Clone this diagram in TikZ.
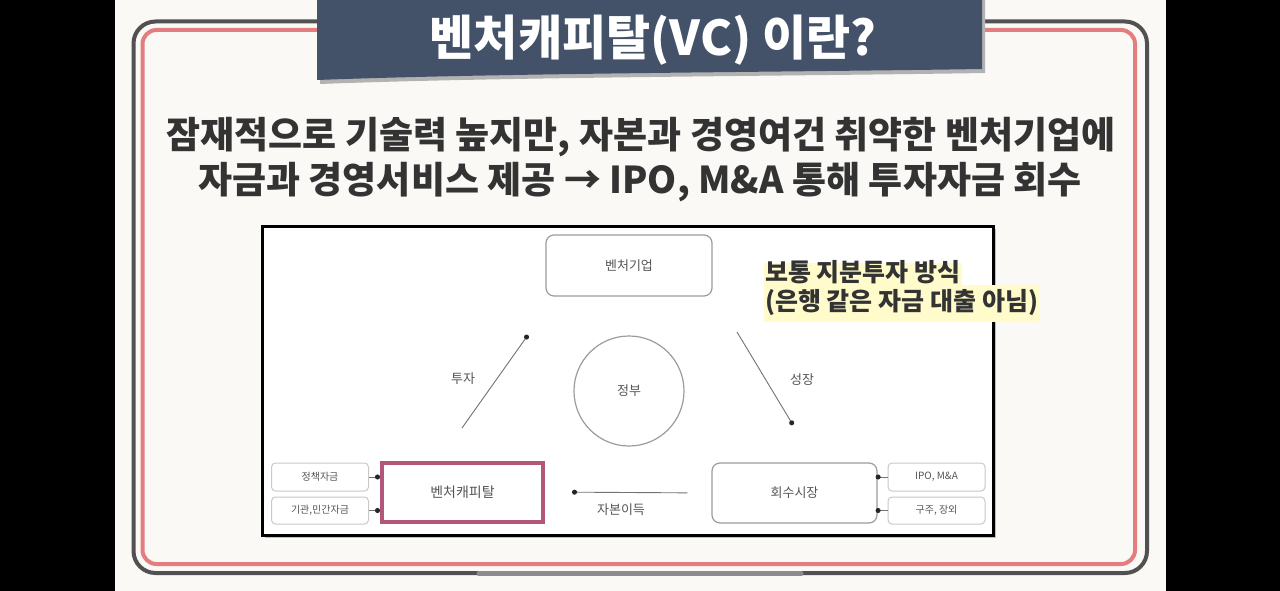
\documentclass[tikz,border=0pt]{standalone}
\usepackage{fontspec}
\setmainfont{Noto Sans CJK KR}
\usetikzlibrary{arrows.meta, positioning}

\definecolor{slidebg}{HTML}{FAF9F5}
\definecolor{bannerblue}{HTML}{435268}
\definecolor{framegray}{HTML}{515151}
\definecolor{framepink}{HTML}{E47D80}
\definecolor{leadtext}{HTML}{333333}
\definecolor{vcpink}{HTML}{B2567A}
\definecolor{boxgray}{HTML}{9C9C9C}
\definecolor{fundgray}{HTML}{C9C9C9}
\definecolor{labelgray}{HTML}{555555}
\definecolor{hilite}{HTML}{FFFBCB}

\begin{document}
\begin{tikzpicture}[
    x=1pt, y=-1pt,
    roundbox/.style={rectangle, draw=boxgray, rounded corners=8pt, line width=1.2pt, fill=white, align=center, font=\fontsize{13}{15}\selectfont, text=labelgray},
    fundbox/.style={rectangle, draw=fundgray, rounded corners=4pt, line width=1pt, fill=white, minimum width=97pt, minimum height=27pt, inner sep=0pt, font=\fontsize{10}{12}\selectfont, text=labelgray},
    vcbox/.style={rectangle, draw=vcpink, line width=4pt, fill=white, font=\fontsize{14}{16}\selectfont, text=labelgray},
    tag/.style={font=\fontsize{13}{15}\selectfont, text=labelgray},
    note/.style={fill=hilite, inner xsep=1pt, inner ysep=0pt, text height=18pt, text depth=4pt, font=\fontsize{25}{28}\selectfont\bfseries, text=leadtext},
    flow/.style={-{Circle[length=5pt, color=black!85]}, draw=black!55, line width=0.9pt},
    lead/.style={font=\fontsize{37}{42}\selectfont\bfseries, text=leadtext}
]
\useasboundingbox (0,0) rectangle (1280,591);

% Slide
\fill[slidebg] (0,0) rectangle (1280,591);
\fill[black] (0,0) rectangle (115,591);
\fill[black] (1166,0) rectangle (1280,591);
\draw[framegray, line width=4pt, rounded corners=22pt] (133.5,21.5) rectangle (1147,573);
\draw[framepink, line width=4pt, rounded corners=14pt] (142.5,30) rectangle (1135,564);
\draw[black!45, line width=5pt, line cap=round] (479,573.5) -- (801,573.5);

% Banner
\fill[black!30] (320,0) -- (985,0) -- (985,73) .. controls (800,76) and (500,77) .. (320,84) -- cycle;
\fill[bannerblue] (317,0) -- (982,0) -- (982,69) .. controls (800,72) and (500,73) .. (317,80) -- cycle;
\node (title) [font=\fontsize{48}{54}\selectfont\bfseries, text=white] at (653,40) {벤처캐피탈(VC) 이란?};

% Lead text
\node (lead1) [lead] at (641,137) {잠재적으로 기술력 높지만, 자본과 경영여건 취약한 벤처기업에};
\node (lead2) [lead] at (640,182) {자금과 경영서비스 제공 → IPO, M\&A 통해 투자자금 회수};

% Diagram frame
\fill[black!25] (265,229) rectangle (996,538);
\draw[black, line width=3pt, fill=white] (262,226) rectangle (993,535);

% Nodes
\node (firm) [roundbox, minimum width=166pt, minimum height=61pt] at (629,265.5) {벤처기업};
\node (gov) [circle, draw=boxgray, line width=1.2pt, minimum size=110pt, tag] at (629,391) {정부};
\node (vc) [vcbox, minimum width=161pt, minimum height=59pt] at (462.5,492) {벤처캐피탈};
\node (exit) [roundbox, minimum width=165pt, minimum height=60pt] at (794.5,493) {회수시장};
\node (policy) [fundbox, minimum height=28pt] at (320,477) {정책자금};
\node (private) [fundbox, below=5pt of policy] {기관,민간자금};
\node (ipo) [fundbox, minimum height=28pt] at (936.5,477) {IPO, M\&A};
\node (resale) [fundbox, below=5pt of ipo] {구주, 장외};
\coordinate (investS) at (462,428);
\coordinate (investE) at (528,335);
\coordinate (growS) at (737,332);
\coordinate (growE) at (793,425);

% Arrows
\draw [flow] (investS) -- (investE);
\draw [flow] (growS) -- (growE);
\draw [flow, shorten <=24pt, shorten >=27pt] (exit.west) -- (vc.east);
\draw [flow] (policy) -- (policy -| vc.west);
\draw [flow] (private) -- (private -| vc.west);
\draw [flow, shorten >=-2pt] (ipo) -- (ipo -| exit.east);
\draw [flow, shorten >=-2pt] (resale) -- (resale -| exit.east);

% Labels
\node (investlbl) [tag] at (463,379) {투자};
\node (growlbl) [tag] at (802,380) {성장};
\node (gainlbl) [tag] at (621,510) {자본이득};

% Note
\node (note1) [note, anchor=west, minimum height=22pt] at (764,274) {보통 지분투자 방식};
\node (note2) [note, anchor=north west, minimum height=37pt] at (note1.south west) {(은행 같은 자금 대출 아님)};

\end{tikzpicture}
\end{document}
